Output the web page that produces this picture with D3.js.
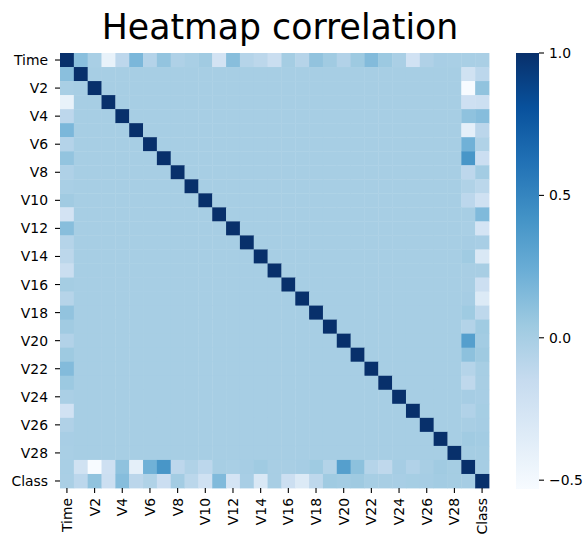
<!DOCTYPE html>
<html lang="en">
<head>
    <meta charset="UTF-8" />
    <title>Heatmap correlation</title>
    <style>
        body { margin: 0; background: #fff; }
        text { font-family: "DejaVu Sans", sans-serif; fill: #000; }
    </style>
</head>
<body>
    <div id="container"></div>
</body>
<script src="https://cdnjs.cloudflare.com/ajax/libs/d3/7.8.5/d3.min.js"></script>
<script>
    // variables, in row / column order
    let labels = ["Time"].concat(d3.range(1, 29).map(i => "V" + i)).concat(["Amount", "Class"]);

    // correlations of V1..V28 with Time, Amount and Class (PCA components are uncorrelated with each other)
    let timeCorr = [0.117, -0.011, -0.420, -0.105, 0.173, -0.063, 0.085, -0.037, -0.009, 0.031,
        -0.248, 0.124, -0.066, -0.099, -0.183, 0.012, -0.073, 0.090, 0.029, -0.051,
        0.045, 0.144, 0.051, -0.016, -0.233, -0.041, -0.005, -0.009];
    let amountCorr = [-0.228, -0.531, -0.211, 0.099, -0.386, 0.216, 0.397, -0.103, -0.044, -0.102,
        0.000, -0.010, 0.005, 0.034, -0.003, -0.004, 0.007, 0.036, -0.056, 0.339,
        0.106, -0.065, -0.113, 0.005, -0.048, -0.003, 0.029, 0.010];
    let classCorr = [-0.101, 0.091, -0.193, 0.133, -0.095, -0.044, -0.187, 0.020, -0.098, -0.217,
        0.155, -0.261, -0.005, -0.303, -0.004, -0.197, -0.326, -0.111, 0.035, 0.020,
        0.040, 0.001, -0.003, -0.007, 0.003, 0.004, 0.018, 0.010];
    let timeAmount = -0.011, timeClass = -0.012, amountClass = 0.006;
    let barTicks = [1.0, 0.5, 0.0, -0.5];

    // matplotlib "Blues"
    let blues = ["#f7fbff", "#deebf7", "#c6dbef", "#9ecae1", "#6baed6", "#4292c6", "#2171b5", "#08519c", "#08306b"];

    // the value of one cell
    function corr(a, b) {
        if (a === b) return 1;
        let ia = labels.indexOf(a), ib = labels.indexOf(b);
        let side = { Time: timeCorr, Amount: amountCorr, Class: classCorr };
        if (side[a] && side[b]) {
            let k = [a, b].sort().join("-");
            return { "Amount-Time": timeAmount, "Class-Time": timeClass, "Amount-Class": amountClass }[k];
        }
        if (side[a]) return side[a][ib - 1];
        if (side[b]) return side[b][ia - 1];
        return 0;
    }

    let cells = [];
    labels.forEach(r => labels.forEach(c => cells.push({ r: r, c: c, v: corr(r, c) })));

    let vmin = d3.min(cells, d => d.v), vmax = d3.max(cells, d => d.v);
    let color = d3.scaleLinear()
        .domain(blues.map((_, i) => vmin + i * (vmax - vmin) / (blues.length - 1)))
        .range(blues);

    let W = 587, H = 543;
    let x = d3.scaleBand().domain(labels).range([60, 489]);
    let y = d3.scaleBand().domain(labels).range([53, 488]);

    let svg = d3.select("#container").append("svg").attr("width", W).attr("height", H);

    // cells
    svg.append("g").selectAll("rect").data(cells).enter().append("rect")
        .attr("x", d => x(d.c))
        .attr("y", d => y(d.r))
        .attr("width", x.bandwidth() + 0.4)
        .attr("height", y.bandwidth() + 0.4)
        .attr("fill", d => color(d.v));

    // every other label is shown
    let shown = labels.filter((d, i) => i % 2 === 0);

    let yAxis = svg.append("g").selectAll("g").data(shown).enter().append("g")
        .attr("transform", d => `translate(0,${y(d) + y.bandwidth() / 2})`);
    yAxis.append("line").attr("x1", 55).attr("x2", 60).attr("stroke", "#000").attr("stroke-width", 1.1);
    yAxis.append("text").text(d => d)
        .attr("x", 48).attr("dy", "0.36em")
        .attr("text-anchor", "end").style("font-size", "13.9px");

    let xAxis = svg.append("g").selectAll("g").data(shown).enter().append("g")
        .attr("transform", d => `translate(${x(d) + x.bandwidth() / 2},0)`);
    xAxis.append("line").attr("y1", 488).attr("y2", 493).attr("stroke", "#000").attr("stroke-width", 1.1);
    xAxis.append("text").text(d => d)
        .attr("transform", "translate(0,498) rotate(-90)")
        .attr("dy", "0.36em")
        .attr("text-anchor", "end").style("font-size", "13.9px");

    // colorbar
    let cb = d3.scaleLinear().domain([vmax, vmin]).range([53, 489]);
    let grad = svg.append("defs").append("linearGradient").attr("id", "cbar")
        .attr("x1", 0).attr("y1", 1).attr("x2", 0).attr("y2", 0);
    grad.selectAll("stop").data(blues).enter().append("stop")
        .attr("offset", (d, i) => i / (blues.length - 1))
        .attr("stop-color", d => d);
    svg.append("rect").attr("x", 516).attr("y", cb(vmax)).attr("width", 23)
        .attr("height", cb(vmin) - cb(vmax)).attr("fill", "url(#cbar)");

    let cbTicks = svg.append("g").selectAll("g").data(barTicks).enter().append("g")
        .attr("transform", d => `translate(0,${cb(d)})`);
    cbTicks.append("line").attr("x1", 539).attr("x2", 544).attr("stroke", "#000").attr("stroke-width", 1.1);
    cbTicks.append("text").text(d => d3.format(".1f")(d).replace("-", "\u2212"))
        .attr("x", 549).attr("dy", "0.36em").style("font-size", "13.9px");

    // title
    svg.append("text").text("Heatmap correlation")
        .attr("x", 280).attr("y", 39)
        .attr("text-anchor", "middle").style("font-size", "34.7px");
</script>
</html>
